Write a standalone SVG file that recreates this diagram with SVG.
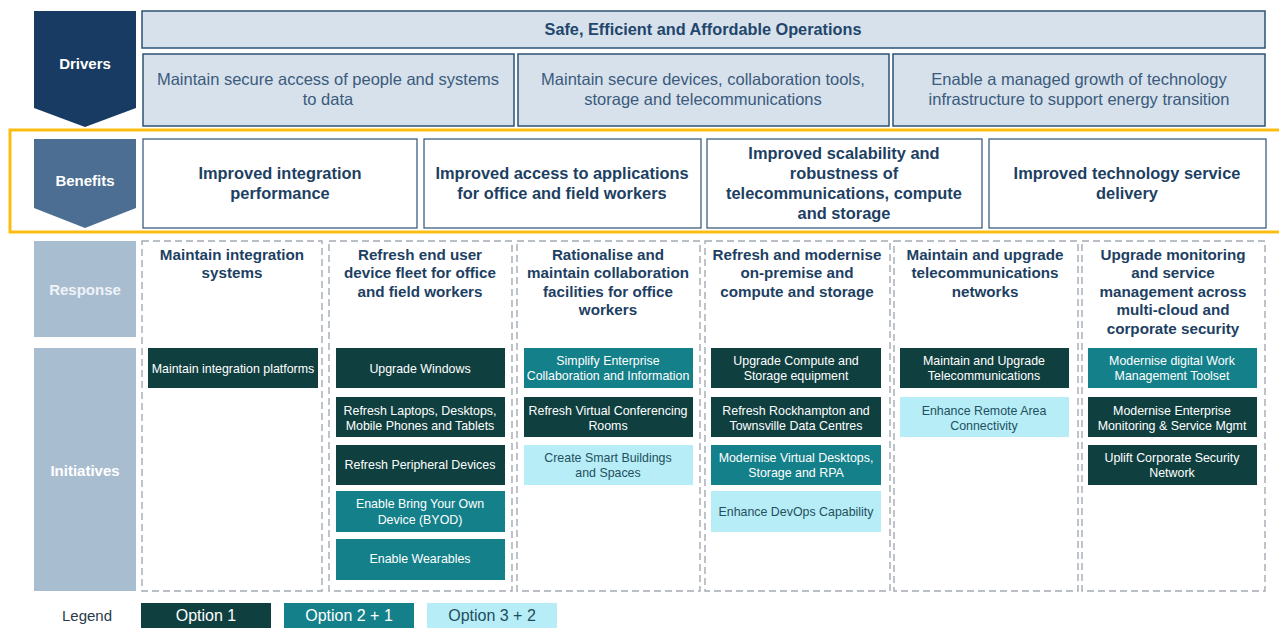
<svg xmlns="http://www.w3.org/2000/svg" width="1279" height="628" viewBox="0 0 1279 628">
<style>
text{font-family:"Liberation Sans",Arial,sans-serif;text-anchor:middle}
.drv{fill:#d6e1eb;stroke:#2c5274;stroke-width:1.5}
.drvt{font-size:16.5px;fill:#3b5a7c}
.top{font-size:16.3px;font-weight:bold;fill:#22466b}
.ben{fill:#fff;stroke:#3d5f80;stroke-width:1.3}
.bent{font-size:16.4px;font-weight:bold;fill:#1d3f63}
.lab{font-size:15px;font-weight:bold;fill:#fff}
.col{fill:none;stroke:#a3abb3;stroke-width:1.4;stroke-dasharray:7 4}
.rsp{font-size:15.2px;font-weight:bold;fill:#1d3f63}
.o1{fill:#103f40}
.o2{fill:#14808a}
.o3{fill:#b6edf7}
.it{font-size:12.4px;fill:#fff}
.itd{font-size:12.4px;fill:#24505e}
.leg{font-size:16px;fill:#fff}
.legd{font-size:16px;fill:#1e4d5c}
</style>
<rect width="1279" height="628" fill="#fff"/>

<g id="drivers-label">
<path d="M34 11H136V108L85 127L34 108Z" fill="#173b62"/>
<text class="lab" x="85" y="69">Drivers</text>
</g>
<g id="driver-top">
<rect class="drv" x="142" y="11" width="1123" height="37"/>
<text class="top" x="703" y="35">Safe, Efficient and Affordable Operations</text>
</g>
<g id="driver-1">
<rect class="drv" x="143" y="54" width="371" height="72"/>
<text class="drvt" x="328" y="85">Maintain secure access of people and systems</text>
<text class="drvt" x="328" y="105">to data</text>
</g>
<g id="driver-2">
<rect class="drv" x="518" y="54" width="371" height="72"/>
<text class="drvt" x="703" y="85">Maintain secure devices, collaboration tools,</text>
<text class="drvt" x="703" y="105">storage and telecommunications</text>
</g>
<g id="driver-3">
<rect class="drv" x="893" y="54" width="372" height="72"/>
<text class="drvt" x="1079" y="85">Enable a managed growth of technology</text>
<text class="drvt" x="1079" y="105">infrastructure to support energy transition</text>
</g>

<rect id="highlight" x="10" y="130" width="1280" height="102" fill="none" stroke="#fdbd10" stroke-width="3"/>

<g id="benefits-label">
<path d="M34 139H136V208L85 228L34 208Z" fill="#4b6e92"/>
<text class="lab" x="85" y="186">Benefits</text>
</g>
<g id="benefit-1">
<rect class="ben" x="143" y="139" width="274" height="89"/>
<text class="bent" x="280" y="179">Improved integration</text>
<text class="bent" x="280" y="199">performance</text>
</g>
<g id="benefit-2">
<rect class="ben" x="424" y="139" width="277" height="89"/>
<text class="bent" x="562" y="179">Improved access to applications</text>
<text class="bent" x="562" y="199">for office and field workers</text>
</g>
<g id="benefit-3">
<rect class="ben" x="707" y="139" width="275" height="89"/>
<text class="bent" x="844" y="159">Improved scalability and</text>
<text class="bent" x="844" y="179">robustness of</text>
<text class="bent" x="844" y="199">telecommunications, compute</text>
<text class="bent" x="844" y="219">and storage</text>
</g>
<g id="benefit-4">
<rect class="ben" x="989" y="139" width="277" height="89"/>
<text class="bent" x="1127" y="179">Improved technology service</text>
<text class="bent" x="1127" y="199">delivery</text>
</g>

<g id="response-label">
<rect x="34" y="241" width="102" height="96" fill="#a9bdd1"/>
<text class="lab" x="85" y="295" style="fill:#eef3f8">Response</text>
</g>
<g id="initiatives-label">
<rect x="34" y="348" width="102" height="243" fill="#a9bdd1"/>
<text class="lab" x="85" y="476">Initiatives</text>
</g>

<g id="column-1">
<rect class="col" x="142" y="241" width="180" height="350"/>
<text class="rsp" x="232" y="260">Maintain integration</text>
<text class="rsp" x="232" y="278">systems</text>
<rect class="o1" x="148" y="348" width="170" height="40"/>
<text class="it" x="233" y="373">Maintain integration platforms</text>
</g>

<g id="column-2">
<rect class="col" x="329" y="241" width="183" height="350"/>
<text class="rsp" x="420" y="260">Refresh end user</text>
<text class="rsp" x="420" y="278">device fleet for office</text>
<text class="rsp" x="420" y="297">and field workers</text>
<rect class="o1" x="336" y="348" width="169" height="40"/>
<text class="it" x="420" y="373">Upgrade Windows</text>
<rect class="o1" x="336" y="397" width="169" height="40"/>
<text class="it" x="420" y="415">Refresh Laptops, Desktops,</text>
<text class="it" x="420" y="430">Mobile Phones and Tablets</text>
<rect class="o1" x="336" y="445" width="169" height="40"/>
<text class="it" x="420" y="469">Refresh Peripheral Devices</text>
<rect class="o2" x="336" y="491" width="169" height="41"/>
<text class="it" x="420" y="508">Enable Bring Your Own</text>
<text class="it" x="420" y="524">Device (BYOD)</text>
<rect class="o2" x="336" y="539" width="169" height="41"/>
<text class="it" x="420" y="563">Enable Wearables</text>
</g>

<g id="column-3">
<rect class="col" x="517" y="241" width="183" height="350"/>
<text class="rsp" x="608" y="260">Rationalise and</text>
<text class="rsp" x="608" y="278">maintain collaboration</text>
<text class="rsp" x="608" y="297">facilities for office</text>
<text class="rsp" x="608" y="315">workers</text>
<rect class="o2" x="524" y="348" width="169" height="40"/>
<text class="it" x="608" y="365">Simplify Enterprise</text>
<text class="it" x="608" y="380">Collaboration and Information</text>
<rect class="o1" x="524" y="397" width="169" height="40"/>
<text class="it" x="608" y="415">Refresh Virtual Conferencing</text>
<text class="it" x="608" y="430">Rooms</text>
<rect class="o3" x="524" y="445" width="169" height="40"/>
<text class="itd" x="608" y="462">Create Smart Buildings</text>
<text class="itd" x="608" y="477">and Spaces</text>
</g>

<g id="column-4">
<rect class="col" x="705" y="241" width="185" height="350"/>
<text class="rsp" x="797" y="260">Refresh and modernise</text>
<text class="rsp" x="797" y="278">on-premise and</text>
<text class="rsp" x="797" y="297">compute and storage</text>
<rect class="o1" x="711" y="348" width="170" height="40"/>
<text class="it" x="796" y="365">Upgrade Compute and</text>
<text class="it" x="796" y="380">Storage equipment</text>
<rect class="o1" x="711" y="397" width="170" height="40"/>
<text class="it" x="796" y="415">Refresh Rockhampton and</text>
<text class="it" x="796" y="430">Townsville Data Centres</text>
<rect class="o2" x="711" y="445" width="170" height="40"/>
<text class="it" x="796" y="462">Modernise Virtual Desktops,</text>
<text class="it" x="796" y="477">Storage and RPA</text>
<rect class="o3" x="711" y="491" width="170" height="41"/>
<text class="itd" x="796" y="516">Enhance DevOps Capability</text>
</g>

<g id="column-5">
<rect class="col" x="894" y="241" width="184" height="350"/>
<text class="rsp" x="985" y="260">Maintain and upgrade</text>
<text class="rsp" x="985" y="278">telecommunications</text>
<text class="rsp" x="985" y="297">networks</text>
<rect class="o1" x="900" y="348" width="169" height="40"/>
<text class="it" x="984" y="365">Maintain  and Upgrade</text>
<text class="it" x="984" y="380">Telecommunications</text>
<rect class="o3" x="900" y="397" width="169" height="40"/>
<text class="itd" x="984" y="415">Enhance Remote Area</text>
<text class="itd" x="984" y="430">Connectivity</text>
</g>

<g id="column-6">
<rect class="col" x="1082" y="241" width="183" height="350"/>
<text class="rsp" x="1173" y="260">Upgrade monitoring</text>
<text class="rsp" x="1173" y="278">and service</text>
<text class="rsp" x="1173" y="297">management across</text>
<text class="rsp" x="1173" y="315">multi-cloud and</text>
<text class="rsp" x="1173" y="334">corporate security</text>
<rect class="o2" x="1088" y="348" width="169" height="40"/>
<text class="it" x="1172" y="365">Modernise digital Work</text>
<text class="it" x="1172" y="380">Management Toolset</text>
<rect class="o1" x="1088" y="397" width="169" height="40"/>
<text class="it" x="1172" y="415">Modernise Enterprise</text>
<text class="it" x="1172" y="430">Monitoring &amp; Service Mgmt</text>
<rect class="o1" x="1088" y="445" width="169" height="40"/>
<text class="it" x="1172" y="462">Uplift Corporate Security</text>
<text class="it" x="1172" y="477">Network</text>
</g>

<g id="legend">
<text x="87" y="621" style="font-size:15px;fill:#2a3a48">Legend</text>
<rect class="o1" x="141" y="603" width="130" height="25"/>
<text class="leg" x="206" y="621">Option 1</text>
<rect class="o2" x="284" y="603" width="130" height="25"/>
<text class="leg" x="349" y="621">Option 2 + 1</text>
<rect class="o3" x="427" y="603" width="130" height="25"/>
<text class="legd" x="492" y="621">Option 3 + 2</text>
</g>

<g id="connectors"></g>
</svg>
